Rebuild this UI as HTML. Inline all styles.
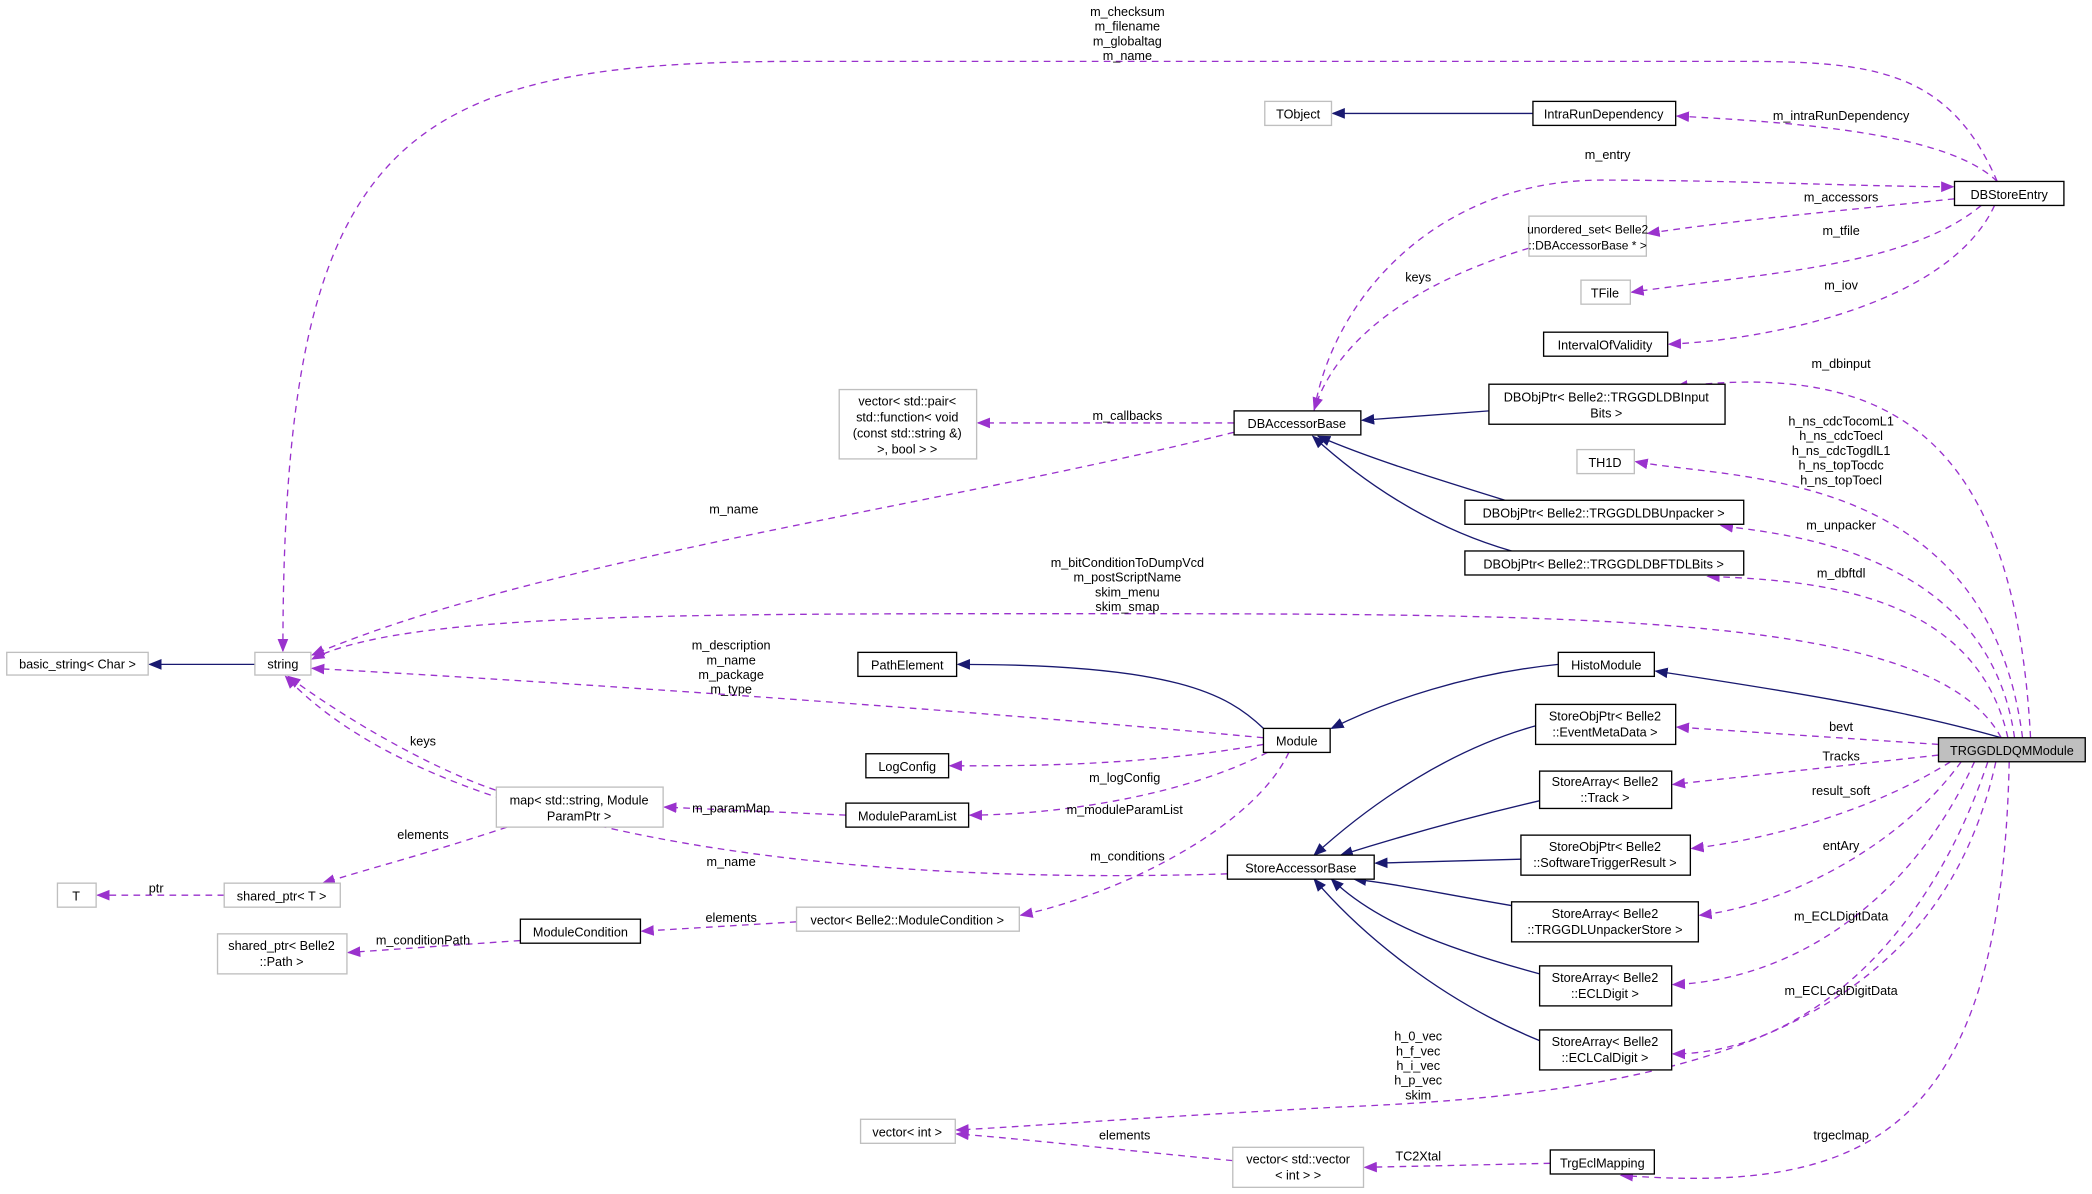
<!DOCTYPE html>
<html><head><meta charset="utf-8"><style>html,body{margin:0;padding:0;background:#fff}svg{display:block}</style></head><body>
<svg width="2092" height="1194" viewBox="0 0 1568 895" xmlns="http://www.w3.org/2000/svg" font-family="Liberation Sans, sans-serif" font-size="9.5">
<defs>
<marker id="p" viewBox="0 0 10 10" refX="9" refY="5" markerWidth="10" markerHeight="10" markerUnits="userSpaceOnUse" orient="auto"><path d="M0,1 L10,5 L0,9 z" fill="#9a32cd"/></marker>
<marker id="n" viewBox="0 0 10 10" refX="9" refY="5" markerWidth="10" markerHeight="10" markerUnits="userSpaceOnUse" orient="auto"><path d="M0,1 L10,5 L0,9 z" fill="#191970"/></marker>
</defs>
<g fill="none" stroke="#191970" stroke-width="1" marker-end="url(#n)">
<path d="M191,498 L112,498"/>
<path d="M1149,85 L999,85"/>
<path d="M1116,308 L1021,315"/>
<path d="M1128,375 C1080,360 1030,345 988,327"/>
<path d="M1133,413 C1070,395 1020,360 984,327"/>
<path d="M947,546 C920,520 880,498 718,498"/>
<path d="M1168,498 C1100,505 1040,525 998,546"/>
<path d="M1500,553 C1420,530 1320,515 1241,503"/>
<path d="M1155,543 C1090,560 1030,600 985,641"/>
<path d="M1155,600 C1090,615 1040,630 1005,641"/>
<path d="M1140,644 L1031,647"/>
<path d="M1140,680 C1080,670 1050,663 1015,659"/>
<path d="M1154,730 C1080,710 1030,690 998,659"/>
<path d="M1154,780 C1080,750 1020,700 985,659"/>
</g>
<g fill="none" stroke="#9a32cd" stroke-width="1" stroke-dasharray="5,4" marker-end="url(#p)">
<path d="M1497,136 C1460,50 1400,46 1300,46 L600,46 C300,46 212,100 212,488"/>
<path d="M1497,136 C1460,100 1350,92 1257,87"/>
<path d="M985,308 C1000,220 1080,135 1200,135 C1300,135 1400,140 1464,140"/>
<path d="M1465,149 C1380,158 1300,165 1235,175"/>
<path d="M1485,154 C1430,200 1320,205 1223,219"/>
<path d="M1495,154 C1460,230 1320,255 1251,258"/>
<path d="M1146,186 C1050,215 1000,260 985,307"/>
<path d="M925,317 L733,317"/>
<path d="M925,324 C700,380 400,420 234,491"/>
<path d="M1522,553 C1510,330 1420,270 1256,290"/>
<path d="M1516,553 C1490,350 1300,360 1226,346"/>
<path d="M1510,553 C1490,410 1330,400 1290,394"/>
<path d="M1505,553 C1480,440 1350,435 1280,432"/>
<path d="M1500,553 C1450,460 1200,460 800,460 C500,460 300,460 234,494"/>
<path d="M947,553 C700,530 400,510 234,501"/>
<path d="M947,558 C850,575 760,574 712,574"/>
<path d="M950,564 C880,600 780,611 727,611"/>
<path d="M634,611 L498,605"/>
<path d="M380,595 C330,580 260,540 216,507"/>
<path d="M380,620 C320,640 280,650 242,662"/>
<path d="M168,671 L73,671"/>
<path d="M920,655 C600,665 320,620 214,507"/>
<path d="M966,564 C940,620 840,670 765,686"/>
<path d="M597,691 L481,698"/>
<path d="M390,705 L261,714"/>
<path d="M1453,558 L1257,545"/>
<path d="M1453,566 L1254,588"/>
<path d="M1462,571 C1400,610 1320,630 1268,636"/>
<path d="M1470,571 C1420,640 1330,680 1274,686"/>
<path d="M1480,571 C1430,680 1340,735 1254,738"/>
<path d="M1490,571 C1440,720 1340,790 1254,790"/>
<path d="M1496,571 C1450,780 1250,820 1000,830 C850,838 760,845 717,847"/>
<path d="M924,870 C820,860 760,853 717,850"/>
<path d="M1162,872 L1023,875"/>
<path d="M1506,571 C1500,850 1400,895 1215,881"/>
</g>
<g stroke-width="1">
<rect x="1453" y="553" width="110" height="18" fill="#bfbfbf" stroke="#000"/>
<g fill="#fff" stroke="#000">
<rect x="1465" y="136" width="82" height="18"/>
<rect x="1149" y="76" width="107" height="18"/>
<rect x="1157" y="249" width="93" height="18"/>
<rect x="1116" y="288" width="177" height="30"/>
<rect x="1098" y="375" width="209" height="18"/>
<rect x="1098" y="413" width="209" height="18"/>
<rect x="925" y="308" width="95" height="18"/>
<rect x="643" y="489" width="74" height="18"/>
<rect x="947" y="546" width="50" height="18"/>
<rect x="1168" y="489" width="72" height="18"/>
<rect x="649" y="565" width="62" height="18"/>
<rect x="634" y="602" width="92" height="18"/>
<rect x="1151" y="528" width="105" height="30"/>
<rect x="1154" y="578" width="99" height="28"/>
<rect x="1140" y="626" width="127" height="30"/>
<rect x="920" y="641" width="110" height="18"/>
<rect x="1133" y="676" width="140" height="30"/>
<rect x="1154" y="724" width="99" height="30"/>
<rect x="1154" y="772" width="99" height="30"/>
<rect x="390" y="689" width="90" height="18"/>
<rect x="1162" y="862" width="78" height="18"/>
</g>
<g fill="#fff" stroke="#bfbfbf">
<rect x="948" y="76" width="50" height="18"/>
<rect x="1146" y="162" width="88" height="30"/>
<rect x="1185" y="210" width="37" height="18"/>
<rect x="1182" y="337" width="43" height="18"/>
<rect x="629" y="292" width="103" height="52"/>
<rect x="191" y="489" width="42" height="17"/>
<rect x="5" y="489" width="106" height="17"/>
<rect x="372" y="590" width="125" height="30"/>
<rect x="43" y="662" width="29" height="18"/>
<rect x="168" y="662" width="87" height="18"/>
<rect x="597" y="680" width="167" height="18"/>
<rect x="163" y="700" width="97" height="30"/>
<rect x="645" y="839" width="71" height="18"/>
<rect x="924" y="860" width="98" height="30"/>
</g>
</g>
<g fill="#000" text-anchor="middle">
<text x="1508" y="566">TRGGDLDQMModule</text>
<text x="1506" y="149">DBStoreEntry</text>
<text x="1202" y="89">IntraRunDependency</text>
<text x="973" y="89">TObject</text>
<text x="1190" y="175" font-size="9">unordered_set&lt; Belle2</text><text x="1190" y="187" font-size="9">::DBAccessorBase * &gt;</text>
<text x="1203" y="223">TFile</text>
<text x="1203" y="262">IntervalOfValidity</text>
<text x="1204" y="301">DBObjPtr&lt; Belle2::TRGGDLDBInput</text><text x="1204" y="313">Bits &gt;</text>
<text x="1203" y="350">TH1D</text>
<text x="1202" y="388">DBObjPtr&lt; Belle2::TRGGDLDBUnpacker &gt;</text>
<text x="1202" y="426">DBObjPtr&lt; Belle2::TRGGDLDBFTDLBits &gt;</text>
<text x="972" y="321">DBAccessorBase</text>
<text x="680" y="304">vector&lt; std::pair&lt;</text><text x="680" y="316"> std::function&lt; void</text><text x="680" y="328">(const std::string &amp;)</text><text x="680" y="340">&gt;, bool &gt; &gt;</text>
<text x="212" y="501">string</text>
<text x="58" y="501">basic_string&lt; Char &gt;</text>
<text x="680" y="502">PathElement</text>
<text x="972" y="559">Module</text>
<text x="1204" y="502">HistoModule</text>
<text x="680" y="578">LogConfig</text>
<text x="680" y="615">ModuleParamList</text>
<text x="434" y="603">map&lt; std::string, Module</text><text x="434" y="615">ParamPtr &gt;</text>
<text x="1203" y="540">StoreObjPtr&lt; Belle2</text><text x="1203" y="552">::EventMetaData &gt;</text>
<text x="1203" y="589">StoreArray&lt; Belle2</text><text x="1203" y="601">::Track &gt;</text>
<text x="1203" y="638">StoreObjPtr&lt; Belle2</text><text x="1203" y="650">::SoftwareTriggerResult &gt;</text>
<text x="975" y="654">StoreAccessorBase</text>
<text x="1203" y="688">StoreArray&lt; Belle2</text><text x="1203" y="700">::TRGGDLUnpackerStore &gt;</text>
<text x="1203" y="736">StoreArray&lt; Belle2</text><text x="1203" y="748">::ECLDigit &gt;</text>
<text x="1203" y="784">StoreArray&lt; Belle2</text><text x="1203" y="796">::ECLCalDigit &gt;</text>
<text x="57" y="675">T</text>
<text x="211" y="675">shared_ptr&lt; T &gt;</text>
<text x="435" y="702">ModuleCondition</text>
<text x="680" y="693">vector&lt; Belle2::ModuleCondition &gt;</text>
<text x="211" y="712">shared_ptr&lt; Belle2</text><text x="211" y="724">::Path &gt;</text>
<text x="680" y="852">vector&lt; int &gt;</text>
<text x="973" y="872">vector&lt; std::vector</text><text x="973" y="884">&lt; int &gt; &gt;</text>
<text x="1201" y="875">TrgEclMapping</text>
<text x="845" y="12">m_checksum</text><text x="845" y="23">m_filename</text><text x="845" y="34">m_globaltag</text><text x="845" y="45">m_name</text>
<text x="1380" y="90">m_intraRunDependency</text>
<text x="1205" y="119">m_entry</text>
<text x="1380" y="151">m_accessors</text>
<text x="1380" y="176">m_tfile</text>
<text x="1380" y="217">m_iov</text>
<text x="1063" y="211">keys</text>
<text x="1380" y="276">m_dbinput</text>
<text x="845" y="315">m_callbacks</text>
<text x="1380" y="319">h_ns_cdcTocomL1</text><text x="1380" y="330">h_ns_cdcToecl</text><text x="1380" y="341">h_ns_cdcTogdlL1</text><text x="1380" y="352">h_ns_topTocdc</text><text x="1380" y="363">h_ns_topToecl</text>
<text x="550" y="385">m_name</text>
<text x="1380" y="397">m_unpacker</text>
<text x="845" y="425">m_bitConditionToDumpVcd</text><text x="845" y="436">m_postScriptName</text><text x="845" y="447">skim_menu</text><text x="845" y="458">skim_smap</text>
<text x="1380" y="433">m_dbftdl</text>
<text x="548" y="487">m_description</text><text x="548" y="498">m_name</text><text x="548" y="509">m_package</text><text x="548" y="520">m_type</text>
<text x="1380" y="548">bevt</text>
<text x="1380" y="570">Tracks</text>
<text x="317" y="559">keys</text>
<text x="843" y="586">m_logConfig</text>
<text x="1380" y="596">result_soft</text>
<text x="843" y="610">m_moduleParamList</text>
<text x="548" y="609">m_paramMap</text>
<text x="317" y="629">elements</text>
<text x="1380" y="637">entAry</text>
<text x="845" y="645">m_conditions</text>
<text x="548" y="649">m_name</text>
<text x="117" y="669">ptr</text>
<text x="1380" y="690">m_ECLDigitData</text>
<text x="548" y="691">elements</text>
<text x="317" y="708">m_conditionPath</text>
<text x="1380" y="746">m_ECLCalDigitData</text>
<text x="1063" y="780">h_0_vec</text><text x="1063" y="791">h_f_vec</text><text x="1063" y="802">h_i_vec</text><text x="1063" y="813">h_p_vec</text><text x="1063" y="824">skim</text>
<text x="843" y="854">elements</text>
<text x="1380" y="854">trgeclmap</text>
<text x="1063" y="870">TC2Xtal</text>
</g>
</svg>
</body></html>
